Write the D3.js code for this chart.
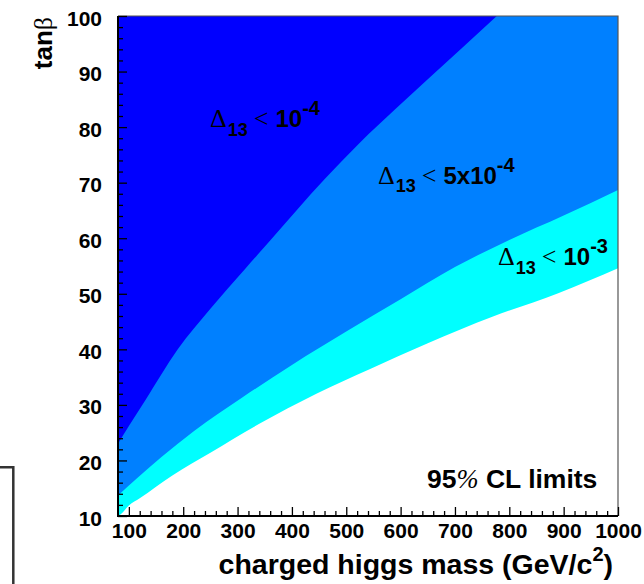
<!DOCTYPE html>
<html lang="en">
<head>
<meta charset="UTF-8">
<script src="https://d3js.org/d3.v7.min.js"></script>
<style>
  body { margin: 0; background: #fff; }
  svg { display: block; }
  .axis text { font: bold 21px "Liberation Sans", Arial, sans-serif; fill: #000; }
  .axis line { stroke: #000; stroke-width: 1.3; }
  .axis path { display: none; }
  .label { font: bold 24px "Liberation Sans", Arial, sans-serif; fill: #000; }
  .sym { font-family: "Liberation Serif", "Times New Roman", serif; font-weight: normal; }
</style>
</head>
<body>
<svg width="644" height="584"></svg>
<script>
// boundary of each region: charged higgs mass (GeV/c^2) -> tan(beta)
// Delta13 < 1e-4 (dark blue, above curve A)
const massA = [80, 100, 130, 190, 250, 315, 360, 460, 525, 590, 650, 777];
const tanA  = [23.0, 26.2, 30.8, 40.0, 47.3, 54.6, 59.6, 70.6, 77.2, 83.2, 88.6, 100];
// Delta13 < 5e-4 (medium blue, above curve B)
const massB = [80, 115, 160, 220, 310, 400, 500, 600, 700, 800, 900, 1000];
const tanB  = [13.7, 16.8, 20.6, 25.3, 31.4, 37.2, 43.2, 49.0, 54.8, 59.7, 64.1, 68.7];
// Delta13 < 1e-3 (cyan, above curve C)
const massC = [80, 85, 100, 120, 180, 250, 340, 445, 545, 650, 770, 890, 1000];
const tanC  = [10.0, 10.3, 11.9, 13.2, 17.3, 21.4, 26.6, 32.0, 36.5, 41.1, 45.9, 50.1, 54.6];

const xTicks = [100, 200, 300, 400, 500, 600, 700, 800, 900, 1000];
const yTicks = [10, 20, 30, 40, 50, 60, 70, 80, 90, 100];

const regionColors = ["#00ffff", "#0080ff", "#0000ff"];

const margin = { top: 16, right: 26, bottom: 68, left: 118 },
      width = 644 - margin.left - margin.right,
      height = 584 - margin.top - margin.bottom;

const svg = d3.select("svg");

// left-bottom corner box piece
svg.append("path")
    .attr("d", "M0,467.3H13.3V590")
    .attr("fill", "none")
    .attr("stroke", "#333")
    .attr("stroke-width", 2.5);

const g = svg.append("g")
    .attr("transform", `translate(${margin.left},${margin.top})`);

const x = d3.scaleLinear().domain([80, 1000]).range([0, width]);
const y = d3.scaleLinear().domain([10, 100]).range([height, 0]);

g.append("clipPath").attr("id", "plotClip")
  .append("rect").attr("width", width).attr("height", height);

const regions = [
    { m: massC, t: tanC },
    { m: massB, t: tanB },
    { m: massA, t: tanA }
];

const area = d3.area()
    .x(d => x(d[0]))
    .y0(y(100))
    .y1(d => y(d[1]))
    .curve(d3.curveMonotoneX);

g.append("g").attr("clip-path", "url(#plotClip)")
  .selectAll("path")
  .data(regions)
  .join("path")
    .attr("fill", (d, i) => regionColors[i])
    .attr("d", d => area(d.m.map((m, i) => [m, d.t[i]])));

// frame: top and right thin, axes thicker
g.append("path")
    .attr("d", `M0,0H${width}V${height}`)
    .attr("fill", "none").attr("stroke", "#555").attr("stroke-width", 1.2);

// minor ticks
g.append("g").attr("class", "axis")
    .call(d3.axisLeft(y).tickValues(d3.range(12, 100, 2).filter(v => v % 10)).tickSize(-5).tickFormat(""));
g.append("g").attr("class", "axis")
    .attr("transform", `translate(0,${height})`)
    .call(d3.axisBottom(x).tickValues(d3.range(120, 1000, 20).filter(v => v % 100)).tickSize(-5).tickFormat(""));

// major ticks
g.append("g").attr("class", "axis")
    .call(d3.axisLeft(y).tickValues(yTicks).tickSize(-9).tickPadding(16).tickFormat(d3.format("d")))
    .selectAll("text").attr("dy", "0.43em");
g.append("g").attr("class", "axis")
    .attr("transform", `translate(0,${height})`)
    .call(d3.axisBottom(x).tickValues(xTicks).tickSize(-9).tickPadding(7).tickFormat(d3.format("d")));

g.append("path")
    .attr("d", `M0,0V${height}H${width}`)
    .attr("fill", "none").attr("stroke", "#000").attr("stroke-width", 2);

// axis titles
const xt = svg.append("text").attr("class", "label")
    .attr("x", 613).attr("y", 574)
    .attr("text-anchor", "end")
    .style("font-size", "28.5px");
xt.append("tspan").text("charged higgs mass (GeV/c");
xt.append("tspan").attr("dy", -13).style("font-size", "20px").text("2");
xt.append("tspan").attr("dy", 13).text(")");

const yt = svg.append("text").attr("class", "label")
    .attr("transform", "translate(52,17) rotate(-90)")
    .attr("text-anchor", "end")
    .style("font-size", "26px");
yt.append("tspan").text("tan");
yt.append("tspan").attr("class", "sym").text("β");

// region labels
function deltaLabel(px, py, value, exp) {
    const t = svg.append("text").attr("class", "label").attr("x", px).attr("y", py);
    t.append("tspan").attr("class", "sym").style("font-size", "26px").text("Δ");
    t.append("tspan").attr("dx", 1).attr("dy", 8.5).style("font-size", "18px").text("13");
    t.append("tspan").attr("class", "sym").style("font-size", "26px").attr("dx", 6).attr("dy", -8.5).text("<");
    t.append("tspan").attr("dx", 7).text(value);
    t.append("tspan").attr("dy", -12).style("font-size", "20px").text(exp);
}
deltaLabel(210, 127, "10", "-4");
deltaLabel(378, 183.5, "5x10", "-4");
deltaLabel(498, 265, "10", "-3");

const cl = svg.append("text").attr("class", "label").attr("x", 427).attr("y", 488)
    .style("font-size", "26.5px");
cl.append("tspan").text("95");
cl.append("tspan").attr("class", "sym").style("font-style", "italic").text("%");
cl.append("tspan").text(" CL limits");
</script>
</body>
</html>
